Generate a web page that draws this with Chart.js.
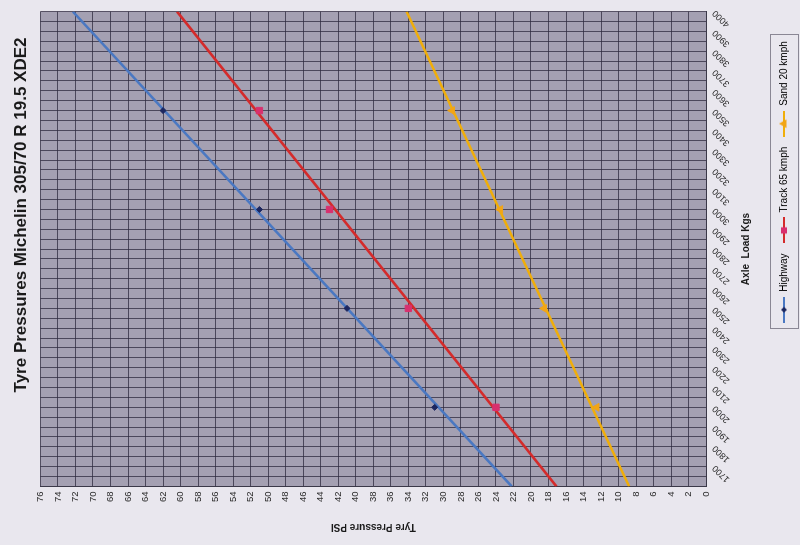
<!DOCTYPE html>
<html>
<head>
<meta charset="utf-8">
<script src="https://cdn.jsdelivr.net/npm/chart.js@4"></script>
<style>
  html, body { margin: 0; padding: 0; width: 800px; height: 545px; overflow: hidden; background: #e9e7ee; }
  /* the chart is laid out upright and turned a quarter left, like the printed page in the photo */
  #wrap { position: absolute; left: 0; top: 0; width: 545px; height: 800px;
          transform-origin: 0 0; transform: translate(0, 545px) rotate(-90deg); }
</style>
</head>
<body>
<div id="wrap"><canvas id="tyreChart" width="545" height="800"></canvas></div>
<script>
const loads = [2000, 2500, 3000, 3500];
const highway = [31, 41, 51, 62];
const track = [24, 34, 43, 51];
const sand = [12.5, 18.5, 23.5, 29];

// trend lines at both ends of the load axis
const trendLoads = [1600, 4000];
const highwayTrend = [22.2, 72.3];
const trackTrend = [17.1, 60.4];
const sandTrend = [8.8, 34.2];

const seriesNames = ['Highway', 'Track 65 kmph', 'Sand 20 kmph'];
const loadLabels = [1700, 1800, 1900, 2000, 2100, 2200, 2300, 2400, 2500, 2600, 2700, 2800,
                    2900, 3000, 3100, 3200, 3300, 3400, 3500, 3600, 3700, 3800, 3900, 4000];

const FONT = "'Liberation Sans', Arial, sans-serif";
const pts = (xs, ys) => xs.map((x, i) => ({ x: x, y: ys[i] }));

function legendIcon(lineColor, markerColor, style, radius) {
    const c = document.createElement('canvas');
    c.width = 26; c.height = 10;
    const g = c.getContext('2d');
    g.strokeStyle = lineColor; g.lineWidth = 2;
    g.beginPath(); g.moveTo(0, 5); g.lineTo(26, 5); g.stroke();
    g.fillStyle = markerColor; g.strokeStyle = markerColor;
    Chart.helpers.drawPoint(g, { pointStyle: style, radius: radius, rotation: 0, borderWidth: 1 }, 13, 5);
    return c;
}

const looks = [
    { line: '#4a78c2', marker: '#1c2760', style: 'rectRot', r: 3 },
    { line: '#d42b2b', marker: '#d8306e', style: 'rect', r: 4.5 },
    { line: '#f0ae0a', marker: '#f2a516', style: 'triangle', r: 4.5 }
];
const markerData = [highway, track, sand];
const trendData = [highwayTrend, trackTrend, sandTrend];

const datasets = [];
markerData.forEach((d, i) => datasets.push({
    label: seriesNames[i],
    data: pts(loads, d),
    showLine: false,
    pointStyle: looks[i].style,
    pointRadius: looks[i].r,
    pointBackgroundColor: looks[i].marker,
    pointBorderColor: looks[i].marker,
    borderColor: looks[i].line
}));
trendData.forEach((d, i) => datasets.push({
    label: seriesNames[i] + ' trend',
    data: pts(trendLoads, d),
    showLine: true,
    pointRadius: 0,
    borderColor: looks[i].line,
    borderWidth: 2.5
}));

const plotFill = {
    id: 'plotFill',
    beforeDraw(chart) {
        const a = chart.chartArea, c = chart.ctx;
        c.save();
        c.fillStyle = '#a4a0b2';
        c.fillRect(a.left, a.top, a.right - a.left, a.bottom - a.top);
        c.restore();
    },
    afterLayout(chart) {
        // title and legend sit off-centre on the printed page
        const t = chart.titleBlock, w = t.right - t.left;
        t.left = 330 - w / 2; t.right = t.left + w;
        const l = chart.legend, lw = l.right - l.left;
        l.left = 363 - lw / 2; l.right = l.left + lw;
    },
    afterDraw(chart) {
        const boxes = chart.legend.legendHitBoxes;
        if (!boxes || !boxes.length) return;
        const x0 = Math.min(...boxes.map(b => b.left)) - 6;
        const x1 = Math.max(...boxes.map(b => b.left + b.width)) + 6;
        const y0 = boxes[0].top - 9, y1 = boxes[0].top + boxes[0].height + 9;
        const c = chart.ctx;
        c.save();
        c.strokeStyle = '#8a8794'; c.lineWidth = 1;
        c.strokeRect(Math.round(x0) + 0.5, Math.round(y0) + 0.5, Math.round(x1 - x0), Math.round(y1 - y0));
        c.restore();
    }
};

new Chart(document.getElementById('tyreChart').getContext('2d'), {
    type: 'scatter',
    data: { datasets: datasets },
    plugins: [plotFill],
    options: {
        responsive: false,
        animation: false,
        layout: { padding: { left: 10, right: 4, top: 0, bottom: 1 } },
        scales: {
            x: {
                type: 'linear',
                min: 1600, max: 4000,
                grid: { color: 'rgba(45,42,62,0.75)', drawTicks: false },
                border: { color: '#3a3848' },
                ticks: {
                    stepSize: 50, autoSkip: false, minRotation: 45, maxRotation: 45, padding: 4,
                    color: '#2a2a2a', font: { family: FONT, size: 9 },
                    callback: v => loadLabels.includes(v) ? String(v) : ''
                },
                title: { display: true, text: 'Axle  Load Kgs', color: '#1a1a1a',
                         font: { family: FONT, size: 10, weight: 'bold' }, padding: { top: 4, bottom: 17 } }
            },
            y: {
                type: 'linear',
                min: 0, max: 76,
                grid: { color: 'rgba(45,42,62,0.75)', drawTicks: false },
                border: { color: '#3a3848' },
                ticks: { stepSize: 2, padding: 5, color: '#2a2a2a', font: { family: FONT, size: 9.5 } },
                title: { display: true, text: 'Tyre Pressure PSI', color: '#1a1a1a',
                         font: { family: FONT, size: 10, weight: 'bold' }, padding: { top: 2, bottom: 14 } }
            }
        },
        plugins: {
            title: {
                display: true,
                text: 'Tyre Pressures Michelin 305/70 R 19.5 XDE2',
                color: '#1a1a1a',
                font: { family: FONT, size: 17, weight: 'bold' },
                padding: { top: 11, bottom: 9 }
            },
            legend: {
                position: 'bottom',
                labels: {
                    usePointStyle: true,
                    pointStyleWidth: 26,
                    padding: 10,
                    color: '#1a1a1a',
                    font: { family: FONT, size: 10 },
                    generateLabels: () => seriesNames.map((n, i) => ({
                        text: n,
                        pointStyle: legendIcon(looks[i].line, looks[i].marker, looks[i].style, looks[i].r - 1.5),
                        fillStyle: looks[i].marker,
                        strokeStyle: looks[i].marker,
                        lineWidth: 0,
                        hidden: false,
                        datasetIndex: i
                    }))
                }
            },
            tooltip: { enabled: false }
        }
    }
});
</script>
</body>
</html>
